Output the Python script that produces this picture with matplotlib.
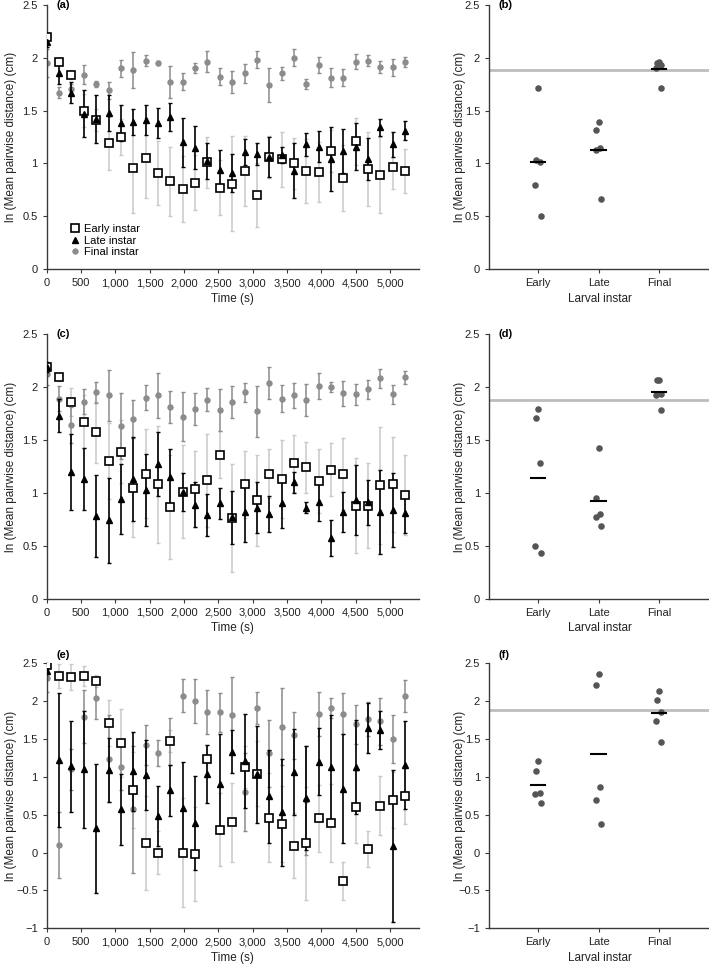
import matplotlib

matplotlib.use("Agg")
import matplotlib.pyplot as plt
import numpy as np
from matplotlib.ticker import FuncFormatter

plt.rcParams["font.family"] = ["Liberation Sans", "DejaVu Sans"]

# ---- data ---------------------------------------------------------------
TIME_S = [0, 180, 360, 540, 720, 900, 1080, 1260, 1440, 1620, 1800, 1980, 2160, 2340, 2520,
          2700, 2880, 3060, 3240, 3420, 3600, 3780, 3960, 4140, 4320, 4500, 4680, 4860, 5040, 5220]
INSTARS = ["Early", "Late", "Final"]
GRAND_MEAN = 1.88

# panel (a)
A_EARLY = [2.19, 1.96, 1.84, 1.50, 1.41, 1.19, 1.25, 0.96, 1.05, 0.91, 0.83, 0.76, 0.82, 1.01, 0.77,
           0.81, 0.93, 0.70, 1.06, 1.04, 1.00, 0.93, 0.92, 1.12, 0.86, 1.21, 0.95, 0.89, 0.97, 0.93]
A_EARLY_ERR = [0.03, 0.03, 0.04, 0.16, 0.10, 0.25, 0.17, 0.43, 0.38, 0.30, 0.33, 0.31, 0.26, 0.24, 0.26,
               0.45, 0.33, 0.30, 0.20, 0.26, 0.24, 0.30, 0.28, 0.20, 0.31, 0.22, 0.35, 0.36, 0.21, 0.21]
A_LATE = [2.15, 1.85, 1.67, 1.47, 1.42, 1.48, 1.38, 1.39, 1.41, 1.38, 1.44, 1.20, 1.15, 1.02, 0.94,
          0.91, 1.11, 1.09, 1.06, 1.08, 0.93, 1.18, 1.16, 1.04, 1.12, 1.16, 1.04, 1.34, 1.18, 1.31]
A_LATE_ERR = [0.05, 0.10, 0.10, 0.22, 0.23, 0.17, 0.17, 0.12, 0.14, 0.14, 0.13, 0.23, 0.20, 0.17, 0.19,
              0.18, 0.12, 0.10, 0.19, 0.08, 0.26, 0.11, 0.15, 0.30, 0.21, 0.22, 0.20, 0.08, 0.12, 0.09]
A_FINAL = [1.95, 1.67, 1.70, 1.84, 1.75, 1.69, 1.90, 1.88, 1.97, 1.95, 1.77, 1.77, 1.90, 1.96, 1.82,
           1.77, 1.85, 1.98, 1.74, 1.85, 2.00, 1.75, 1.93, 1.81, 1.81, 1.96, 1.97, 1.91, 1.91, 1.96]
A_FINAL_ERR = [0.13, 0.05, 0.05, 0.09, 0.03, 0.08, 0.08, 0.17, 0.05, 0.02, 0.15, 0.08, 0.05, 0.10, 0.08,
               0.10, 0.09, 0.08, 0.16, 0.06, 0.08, 0.05, 0.08, 0.09, 0.08, 0.07, 0.05, 0.06, 0.08, 0.05]

# panel (c)
C_EARLY = [2.19, 2.09, 1.86, 1.67, 1.57, 1.30, 1.39, 1.05, 1.18, 1.08, 0.87, 1.01, 1.04, 1.12, 1.36,
           0.76, 1.08, 0.93, 1.18, 1.13, 1.28, 1.24, 1.11, 1.22, 1.18, 0.88, 0.88, 1.07, 1.08, 0.98]
C_EARLY_ERR = [0.03, 0.03, 0.13, 0.25, 0.29, 0.36, 0.30, 0.47, 0.42, 0.55, 0.49, 0.44, 0.36, 0.44, 0.22,
               0.51, 0.32, 0.43, 0.23, 0.37, 0.27, 0.24, 0.30, 0.25, 0.34, 0.45, 0.40, 0.55, 0.45, 0.38]
C_LATE = [2.19, 1.73, 1.20, 1.13, 0.78, 0.74, 0.94, 1.13, 1.03, 1.27, 1.15, 1.01, 0.89, 0.79, 0.90,
          0.77, 0.82, 0.86, 0.80, 0.90, 1.10, 0.86, 0.91, 0.57, 0.82, 0.93, 0.91, 0.82, 0.84, 0.81]
C_LATE_ERR = [0.05, 0.16, 0.36, 0.29, 0.39, 0.40, 0.33, 0.40, 0.34, 0.30, 0.26, 0.18, 0.21, 0.20, 0.15,
              0.25, 0.28, 0.24, 0.17, 0.23, 0.10, 0.05, 0.18, 0.17, 0.19, 0.33, 0.21, 0.40, 0.35, 0.19]
C_FINAL = [2.12, 1.89, 1.64, 1.86, 1.95, 1.92, 1.63, 1.70, 1.90, 1.92, 1.81, 1.72, 1.79, 1.88, 1.78,
           1.86, 1.95, 1.77, 2.04, 1.89, 1.92, 1.88, 2.01, 2.00, 1.94, 1.93, 1.98, 2.08, 1.93, 2.09]
C_FINAL_ERR = [0.10, 0.12, 0.17, 0.12, 0.10, 0.24, 0.31, 0.18, 0.12, 0.21, 0.15, 0.23, 0.15, 0.11, 0.20,
               0.15, 0.09, 0.24, 0.15, 0.13, 0.12, 0.15, 0.12, 0.05, 0.12, 0.10, 0.09, 0.09, 0.09, 0.06]

# panel (e)
E_EARLY = [2.47, 2.33, 2.32, 2.33, 2.26, 1.71, 1.44, 0.82, 0.13, 0.00, 1.47, 0.00, -0.02, 1.23, 0.30,
           0.40, 1.13, 1.04, 0.46, 0.38, 0.09, 0.12, 0.45, 0.39, -0.37, 0.60, 0.05, 0.62, 0.69, 0.74]
E_EARLY_ERR = [0.03, 0.16, 0.17, 0.13, 0.08, 0.30, 0.45, 0.50, 0.62, 0.28, 0.15, 0.72, 0.62, 0.19, 0.48,
               0.52, 0.28, 0.43, 0.59, 0.50, 0.43, 0.75, 0.44, 0.52, 0.25, 0.48, 0.24, 0.39, 0.37, 0.37]
E_LATE = [2.40, 1.22, 1.14, 1.10, 0.32, 1.09, 0.57, 1.07, 1.02, 0.48, 0.82, 0.59, 0.39, 1.04, 0.91,
          1.33, 1.21, 1.03, 0.74, 0.53, 1.06, 0.72, 1.20, 1.13, 0.84, 1.13, 1.64, 1.62, 0.09, 1.16]
E_LATE_ERR = [0.05, 0.88, 0.60, 0.77, 0.85, 0.42, 0.47, 0.52, 0.46, 0.40, 0.34, 0.60, 0.62, 0.38, 0.65,
              0.28, 0.62, 0.64, 0.61, 0.71, 0.57, 0.69, 0.44, 0.69, 0.72, 0.62, 0.33, 0.25, 1.00, 0.58]
E_FINAL = [2.30, 0.10, 1.10, 1.79, 2.04, 1.24, 1.13, 0.57, 1.42, 1.31, 1.46, 2.07, 2.00, 1.86, 1.85,
           1.81, 0.80, 1.91, 1.31, 1.66, 1.55, 0.69, 1.83, 1.91, 1.83, 1.69, 1.76, 1.73, 1.50, 2.07]
E_FINAL_ERR = [0.18, 0.44, 0.27, 0.35, 0.28, 0.57, 0.30, 0.84, 0.26, 0.17, 0.31, 0.22, 0.29, 0.29, 0.26,
               0.51, 0.51, 0.21, 0.44, 0.51, 0.31, 0.72, 0.29, 0.13, 0.27, 0.26, 0.22, 0.31, 0.32, 0.21]

# per-replicate means, panels (b), (d), (f)
B_EARLY = [1.71, 1.03, 1.01, 0.80, 0.50]
B_LATE = [1.39, 1.32, 1.15, 1.13, 0.66]
B_FINAL = [1.96, 1.95, 1.93, 1.90, 1.71]
D_EARLY = [1.79, 1.71, 1.28, 0.50, 0.43]
D_LATE = [1.42, 0.95, 0.80, 0.77, 0.69]
D_FINAL = [2.07, 2.07, 1.93, 1.92, 1.78]
F_EARLY = [1.21, 1.07, 0.78, 0.77, 0.65]
F_LATE = [2.35, 2.21, 0.86, 0.69, 0.37]
F_FINAL = [2.13, 2.01, 1.86, 1.74, 1.46]

# ---- style --------------------------------------------------------------
JITTER = [0.0, -0.035, 0.03, -0.045, 0.04]
AX_COL = "#3a3a3a"
TXT_COL = "#222222"
EARLY_BAR = "#c9c9c9"
FINAL_COL = "#8c8c8c"
DOT_COL = "#555555"
YLABEL = "ln (Mean pairwise distance) (cm)"
ROWS = [(0.7206, 0.2746, (0, 2.5)), (0.3789, 0.2746, (0, 2.5)), (0.0370, 0.2752, (-1, 2.5))]


def _fmt(v, _pos):
    return f"{v:g}".replace("-", "\u2212")


def _style(ax, ylim, label_x):
    for side in ("top", "right"):
        ax.spines[side].set_visible(False)
    for side in ("left", "bottom"):
        ax.spines[side].set_color(AX_COL)
        ax.spines[side].set_linewidth(1.0)
    ax.set_ylim(*ylim)
    ax.set_yticks(np.arange(ylim[0], ylim[1] + 0.01, 0.5))
    ax.yaxis.set_major_formatter(FuncFormatter(_fmt))
    ax.tick_params(colors=AX_COL, labelcolor=TXT_COL, labelsize=8, length=3, width=0.8)
    ax.set_ylabel(YLABEL, fontsize=8.5, color=TXT_COL)
    ax.yaxis.set_label_coords(label_x, 0.5)


def _tag(ax, tag, x, ylim):
    ax.text(x, 1.0 if ylim[0] == 0 else 1.012, tag, transform=ax.transAxes, fontsize=8,
            fontweight="bold", va="center" if ylim[0] == 0 else "bottom")


def time_panel(ax, early, early_err, late, late_err, final, final_err, ylim, tag, legend=False):
    t = np.array(TIME_S)
    ax.errorbar(t, final, yerr=final_err, fmt="none", ecolor=FINAL_COL, elinewidth=1.1,
                capsize=1.6, capthick=1.0, zorder=2)
    ax.plot(t, final, "o", ms=3.6, color=FINAL_COL, ls="none", zorder=2, label="Final instar")
    ax.errorbar(t, early, yerr=early_err, fmt="none", ecolor=EARLY_BAR, elinewidth=1.1,
                capsize=1.6, capthick=1.0, zorder=1)
    ax.errorbar(t, late, yerr=late_err, fmt="none", ecolor="black", elinewidth=1.2,
                capsize=1.6, capthick=1.0, zorder=3)
    ax.plot(t, early, "s", ms=6.3, mfc="white", mec="black", mew=1.2, ls="none", zorder=4,
            label="Early instar")
    ax.plot(t, late, "^", ms=4.6, color="black", ls="none", zorder=5, label="Late instar")
    _style(ax, ylim, -0.08)
    ax.set_xlim(0, 5420)
    ax.set_xticks(range(0, 5001, 500))
    ax.xaxis.set_major_formatter(FuncFormatter(lambda v, _p: f"{int(v):,}"))
    ax.set_xlabel("Time (s)", fontsize=8.5, color=TXT_COL, labelpad=3)
    _tag(ax, tag, 0.025, ylim)
    if legend:
        h, lab = ax.get_legend_handles_labels()
        order = [lab.index(n) for n in ("Early instar", "Late instar", "Final instar")]
        ax.legend([h[i] for i in order], [lab[i] for i in order], loc="lower left",
                  bbox_to_anchor=(0.04, 0.02), frameon=False, fontsize=8, handletextpad=0.2,
                  labelspacing=0.15, handlelength=1.2, borderaxespad=0.2)


def instar_panel(ax, groups, ylim, tag):
    ax.axhline(GRAND_MEAN, color="#bdbdbd", lw=2.0, zorder=1)
    for k, vals in enumerate(groups, start=1):
        xs = [k + JITTER[i % len(JITTER)] for i in range(len(vals))]
        ax.plot(xs, vals, "o", ms=3.7, color=DOT_COL, ls="none", zorder=2)
        m = float(np.mean(vals))
        ax.plot([k - 0.12, k + 0.12], [m, m], color="black", lw=1.5, zorder=3)
    _style(ax, ylim, -0.105)
    ax.set_xlim(0.19, 3.85)
    ax.set_xticks([1, 2, 3])
    ax.set_xticklabels(INSTARS)
    ax.set_xlabel("Larval instar", fontsize=8.5, color=TXT_COL, labelpad=3)
    _tag(ax, tag, 0.04, ylim)


fig = plt.figure(figsize=(7.09, 9.64), dpi=100)
series = [
    (A_EARLY, A_EARLY_ERR, A_LATE, A_LATE_ERR, A_FINAL, A_FINAL_ERR),
    (C_EARLY, C_EARLY_ERR, C_LATE, C_LATE_ERR, C_FINAL, C_FINAL_ERR),
    (E_EARLY, E_EARLY_ERR, E_LATE, E_LATE_ERR, E_FINAL, E_FINAL_ERR),
]
groups = [(B_EARLY, B_LATE, B_FINAL), (D_EARLY, D_LATE, D_FINAL), (F_EARLY, F_LATE, F_FINAL)]
tags = [("(a)", "(b)"), ("(c)", "(d)"), ("(e)", "(f)")]

for r, (bottom, height, ylim) in enumerate(ROWS):
    ax_l = fig.add_axes([0.0659, bottom, 0.525, height])
    time_panel(ax_l, *series[r], ylim, tags[r][0], legend=(r == 0))
    ax_r = fig.add_axes([0.690, bottom, 0.312, height])
    instar_panel(ax_r, groups[r], ylim, tags[r][1])

fig.savefig("out.png", dpi=100)
plt.close(fig)
